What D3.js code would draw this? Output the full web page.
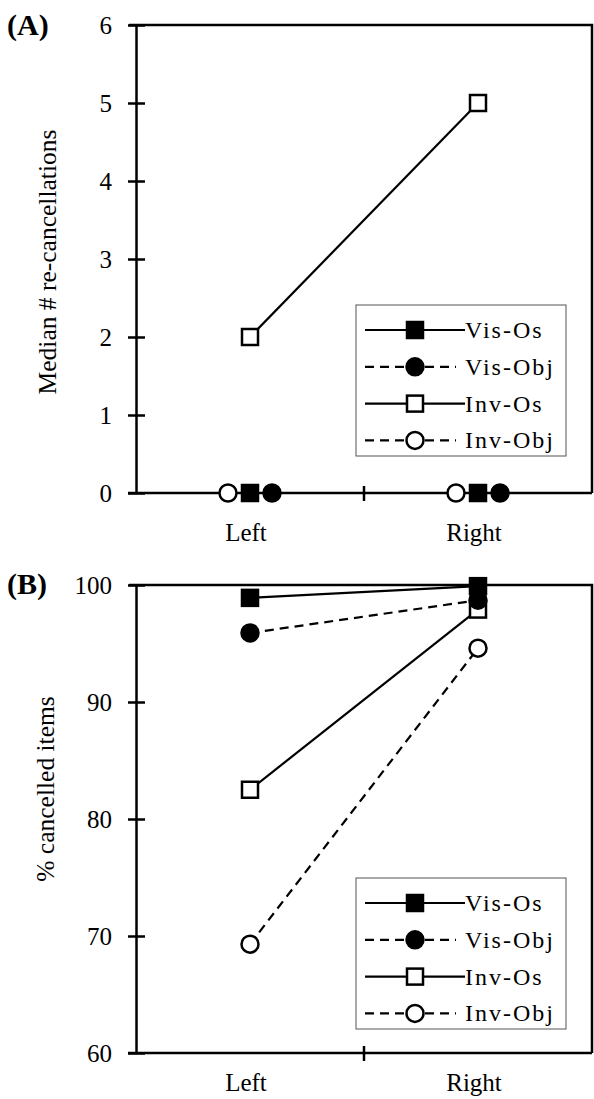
<!DOCTYPE html>
<html>
<head>
<meta charset="utf-8">
<script src="https://cdn.jsdelivr.net/npm/d3@7"></script>
<style>
  body { margin: 0; background: #fff; }
  text { font-family: "Liberation Serif", "DejaVu Serif", serif; fill: #000; }
</style>
</head>
<body>
<div id="wrapper"></div>
<script>
// categories and series
const sides = ["Left", "Right"];
const seriesNames = ["Vis-Os", "Vis-Obj", "Inv-Os", "Inv-Obj"];

// panel A: median number of re-cancellations
const recancelVisOs = [0, 0];
const recancelVisObj = [0, 0];
const recancelInvOs = [2, 5];
const recancelInvObj = [0, 0];
const recancelTicks = [0, 1, 2, 3, 4, 5, 6];

// panel B: percent cancelled items
const cancelledVisOs = [98.9, 99.9];
const cancelledVisObj = [95.9, 98.7];
const cancelledInvOs = [82.5, 97.9];
const cancelledInvObj = [69.3, 94.6];
const cancelledTicks = [60, 70, 80, 90, 100];

const style = {
    "Vis-Os": { shape: "square", fill: "#000", dash: null },
    "Vis-Obj": { shape: "circle", fill: "#000", dash: "9,6" },
    "Inv-Os": { shape: "square", fill: "#fff", dash: null },
    "Inv-Obj": { shape: "circle", fill: "#fff", dash: "9,6" }
};

const width = 594, height = 1099;

const svg = d3.select("#wrapper")
    .append("svg")
    .attr("width", width)
    .attr("height", height);

function marker(g, shape, fill, cx, cy) {
    if (shape === "square") {
        g.append("rect")
            .attr("x", cx - 8).attr("y", cy - 8)
            .attr("width", 16).attr("height", 16)
            .attr("fill", fill)
            .attr("stroke", "#000")
            .attr("stroke-width", 2.5);
    } else {
        g.append("circle")
            .attr("cx", cx).attr("cy", cy).attr("r", 8.5)
            .attr("fill", fill)
            .attr("stroke", "#000")
            .attr("stroke-width", 2.5);
    }
}

function panel(opts) {
    const g = svg.append("g");
    const x = d3.scaleBand().domain(sides).range([136, 592]);
    const y = d3.scaleLinear().domain(opts.domain).range([opts.bottom, opts.top]);

    // frame: top and right border
    g.append("path")
        .attr("d", `M129,${opts.top}H592V${opts.bottom}`)
        .attr("fill", "none")
        .attr("stroke", "#000")
        .attr("stroke-width", 2.5);

    // y axis
    const yAxis = g.append("g")
        .attr("transform", "translate(136,0)")
        .call(d3.axisLeft(y).tickValues(opts.ticks).tickFormat(d3.format("d"))
            .tickSizeInner(8).tickSizeOuter(0).tickPadding(16));
    yAxis.select(".domain").attr("stroke-width", 2.5);
    yAxis.selectAll(".tick line").attr("x1", 9).attr("stroke-width", 2.5);
    yAxis.selectAll(".tick text")
        .style("font-family", "'Liberation Serif', serif")
        .style("font-size", "25px");

    // x axis
    g.append("line")
        .attr("x1", 128).attr("x2", 592)
        .attr("y1", opts.bottom).attr("y2", opts.bottom)
        .attr("stroke", "#000").attr("stroke-width", 2.5);
    g.append("line")
        .attr("x1", x("Right")).attr("x2", x("Right"))
        .attr("y1", opts.bottom - 7).attr("y2", opts.bottom + 8)
        .attr("stroke", "#000").attr("stroke-width", 2.5);
    g.selectAll(".xlab")
        .data(sides)
        .enter()
        .append("text")
        .attr("x", d => x(d) + x.bandwidth() / 2 - 4)
        .attr("y", opts.labelY)
        .attr("text-anchor", "middle")
        .style("font-size", "25px")
        .text(d => d);

    // axis title
    g.append("text")
        .attr("transform", `translate(${opts.titleX},${opts.titleY}) rotate(-90)`)
        .attr("text-anchor", "middle")
        .attr("dy", "0.35em")
        .style("font-size", "25.5px")
        .text(opts.title);

    // panel letter
    g.append("text")
        .attr("x", 7).attr("y", opts.letterY)
        .style("font-size", "30px")
        .style("font-weight", "bold")
        .text(opts.letter);

    // lines and markers, drawn back to front
    const order = ["Inv-Obj", "Inv-Os", "Vis-Obj", "Vis-Os"];
    const line = d3.line()
        .x(d => x(d.side) + x.bandwidth() / 2 + d.dx)
        .y(d => y(d.v));
    order.forEach(name => {
        const s = style[name];
        const pts = opts.values[name].map((v, i) => ({
            side: sides[i], v: v, dx: opts.offset[name]
        }));
        g.append("path")
            .datum(pts)
            .attr("d", line)
            .attr("fill", "none")
            .attr("stroke", "#000")
            .attr("stroke-width", 2.2)
            .attr("stroke-dasharray", s.dash);
    });
    order.forEach(name => {
        const s = style[name];
        opts.values[name].forEach((v, i) => {
            marker(g, s.shape, s.fill, x(sides[i]) + x.bandwidth() / 2 + opts.offset[name], y(v));
        });
    });

    // legend
    const lg = g.append("g").attr("transform", `translate(356,${opts.legendTop})`);
    lg.append("rect")
        .attr("width", 210).attr("height", 151)
        .attr("fill", "#fff")
        .attr("stroke", "#555")
        .attr("stroke-width", 1);
    seriesNames.forEach((name, i) => {
        const s = style[name];
        const ry = 25 + i * 36.8;
        lg.append("line")
            .attr("x1", 9).attr("x2", s.dash ? 100 : 109)
            .attr("y1", ry).attr("y2", ry)
            .attr("stroke", "#000")
            .attr("stroke-width", 2.2)
            .attr("stroke-dasharray", s.dash);
        marker(lg, s.shape, s.fill, 59, ry);
        lg.append("text")
            .attr("x", 109).attr("y", ry + 8)
            .style("font-size", "24px")
            .style("letter-spacing", "2px")
            .text(name);
    });
}

panel({
    letter: "(A)", letterY: 35,
    domain: [0, 6], top: 25, bottom: 493, ticks: recancelTicks,
    labelY: 541, title: "Median # re-cancellations", titleX: 47, titleY: 262,
    legendTop: 305,
    values: { "Vis-Os": recancelVisOs, "Vis-Obj": recancelVisObj, "Inv-Os": recancelInvOs, "Inv-Obj": recancelInvObj },
    offset: { "Vis-Os": 0, "Vis-Obj": 22, "Inv-Os": 0, "Inv-Obj": -22 }
});

panel({
    letter: "(B)", letterY: 594,
    domain: [60, 100], top: 585, bottom: 1053, ticks: cancelledTicks,
    labelY: 1091, title: "% cancelled items", titleX: 45, titleY: 789,
    legendTop: 878,
    values: { "Vis-Os": cancelledVisOs, "Vis-Obj": cancelledVisObj, "Inv-Os": cancelledInvOs, "Inv-Obj": cancelledInvObj },
    offset: { "Vis-Os": 0, "Vis-Obj": 0, "Inv-Os": 0, "Inv-Obj": 0 }
});
</script>
</body>
</html>
